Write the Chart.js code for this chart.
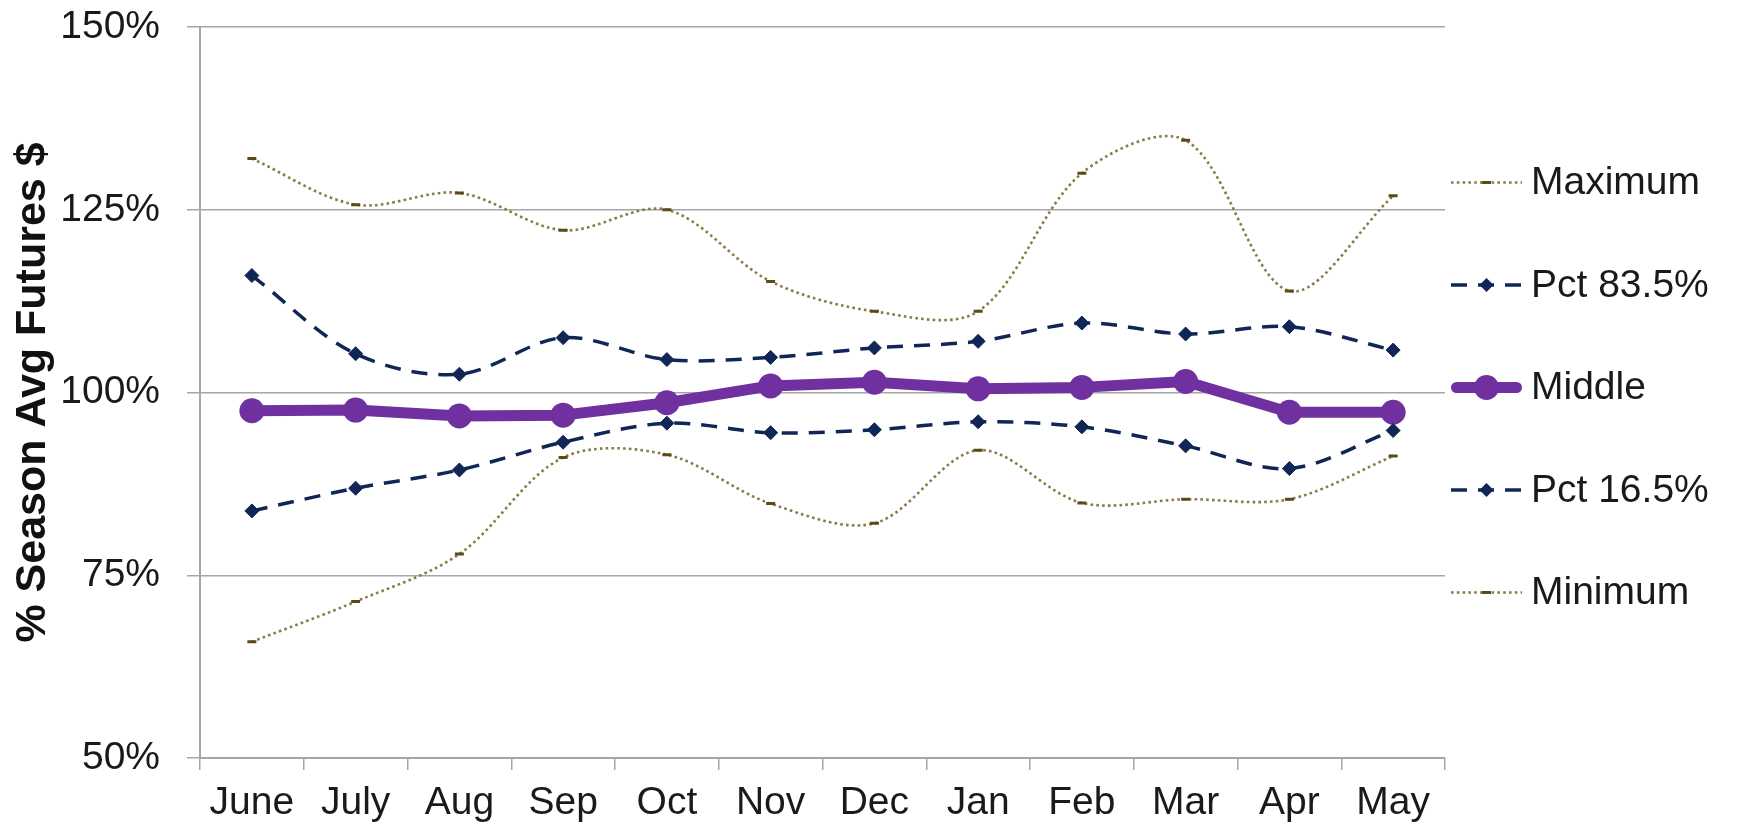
<!DOCTYPE html>
<html>
<head>
<meta charset="utf-8">
<title>% Season Avg Futures $</title>
<script src="https://cdn.jsdelivr.net/npm/chart.js@4/dist/chart.umd.min.js"></script>
<style>
  html, body { margin: 0; padding: 0; background: #ffffff; }
  #wrap { width: 1739px; height: 826px; position: relative; }
</style>
</head>
<body>
<div id="wrap"><canvas id="chart" width="1739" height="826"></canvas></div>
<script>
// Month of the marketing season
const months = ['June', 'July', 'Aug', 'Sep', 'Oct', 'Nov', 'Dec', 'Jan', 'Feb', 'Mar', 'Apr', 'May'];

// Price as % of the season average futures price
const maximum = [132.0, 125.7, 127.3, 122.2, 125.0, 115.2, 111.1, 111.1, 130.0, 134.5, 113.9, 126.9];
const pct835  = [116.0, 105.3, 102.5, 107.5, 104.5, 104.8, 106.1, 107.0, 109.5, 108.0, 109.0, 105.8];
const middle  = [97.5, 97.6, 96.8, 96.9, 98.6, 100.9, 101.4, 100.5, 100.7, 101.5, 97.3, 97.3];
const pct165  = [83.8, 86.9, 89.4, 93.2, 95.8, 94.5, 94.9, 96.0, 95.3, 92.7, 89.6, 94.8];
const minimum = [65.9, 71.4, 77.9, 91.1, 91.5, 84.8, 82.1, 92.1, 84.9, 85.4, 85.4, 91.3];

// Value axis ticks
const yTicks = [50, 75, 100, 125, 150];

const FONT = 'Liberation Sans, Arial, Helvetica, sans-serif';
const GRID = '#a6a6a6';
const OLIVE = '#8a7b45';
const OLIVE_MARK = '#5a4a18';
const NAVY = '#0f2657';
const PURPLE = '#7030a0';

const datasets = [
  {
    label: 'Maximum', data: maximum, order: 5,
    borderColor: OLIVE, borderWidth: 2.6, borderDash: [2.6, 3.2],
    tension: 0.33, fill: false,
    pointStyle: 'line', pointRadius: 4.5, pointBorderWidth: 3,
    pointBorderColor: OLIVE_MARK, pointBackgroundColor: OLIVE_MARK
  },
  {
    label: 'Pct 83.5%', data: pct835, order: 4,
    borderColor: NAVY, borderWidth: 3.5, borderDash: [16, 11],
    tension: 0.33, fill: false,
    pointStyle: 'rectRot', pointRadius: 7, pointBorderWidth: 1,
    pointBorderColor: NAVY, pointBackgroundColor: NAVY
  },
  {
    label: 'Middle', data: middle, order: 3,
    borderColor: PURPLE, borderWidth: 11, borderCapStyle: 'round', borderJoinStyle: 'round',
    tension: 0, fill: false,
    pointStyle: 'circle', pointRadius: 12.5, pointBorderWidth: 0,
    pointBorderColor: PURPLE, pointBackgroundColor: PURPLE
  },
  {
    label: 'Pct 16.5%', data: pct165, order: 2,
    borderColor: NAVY, borderWidth: 3.5, borderDash: [16, 11],
    tension: 0.33, fill: false,
    pointStyle: 'rectRot', pointRadius: 7, pointBorderWidth: 1,
    pointBorderColor: NAVY, pointBackgroundColor: NAVY
  },
  {
    label: 'Minimum', data: minimum, order: 1,
    borderColor: OLIVE, borderWidth: 2.6, borderDash: [2.6, 3.2],
    tension: 0.33, fill: false,
    pointStyle: 'line', pointRadius: 4.5, pointBorderWidth: 3,
    pointBorderColor: OLIVE_MARK, pointBackgroundColor: OLIVE_MARK
  }
];

// Series key drawn to the right of the plot, one row per series
const sideLegend = {
  id: 'sideLegend',
  afterDraw(chart) {
    const ctx = chart.ctx;
    const area = chart.chartArea;
    const x0 = area.right + 6, x1 = area.right + 77, tx = area.right + 86;
    const mid = (area.top + area.bottom) / 2 - 5;
    const step = 102.5;
    chart.data.datasets.forEach((ds, i) => {
      const y = mid + (i - 2) * step;
      ctx.save();
      ctx.strokeStyle = ds.borderColor;
      ctx.lineWidth = ds.borderWidth;
      ctx.lineCap = ds.borderCapStyle || 'butt';
      ctx.setLineDash(ds.borderDash || []);
      ctx.beginPath();
      const inset = ds.borderCapStyle === 'round' ? ds.borderWidth / 2 : 0;
      ctx.moveTo(x0 + inset, y);
      ctx.lineTo(x1 - inset, y);
      ctx.stroke();
      ctx.setLineDash([]);
      const cx = (x0 + x1) / 2;
      ctx.fillStyle = ds.pointBackgroundColor;
      ctx.strokeStyle = ds.pointBorderColor;
      ctx.beginPath();
      if (ds.pointStyle === 'circle') {
        ctx.arc(cx, y, ds.pointRadius, 0, Math.PI * 2);
        ctx.fill();
      } else if (ds.pointStyle === 'rectRot') {
        const r = ds.pointRadius;
        ctx.moveTo(cx, y - r); ctx.lineTo(cx + r, y); ctx.lineTo(cx, y + r); ctx.lineTo(cx - r, y);
        ctx.closePath();
        ctx.fill();
      } else {
        ctx.lineWidth = ds.pointBorderWidth;
        ctx.moveTo(cx - ds.pointRadius, y); ctx.lineTo(cx + ds.pointRadius, y);
        ctx.stroke();
      }
      ctx.fillStyle = '#1a1a1a';
      ctx.font = '39px ' + FONT;
      ctx.textAlign = 'left';
      ctx.textBaseline = 'middle';
      ctx.fillText(ds.label, tx, y + 1);
      ctx.restore();
    });
  }
};

const whiteBg = {
  id: 'whiteBg',
  beforeDraw(chart) {
    const ctx = chart.ctx;
    ctx.save();
    ctx.fillStyle = '#ffffff';
    ctx.fillRect(0, 0, chart.width, chart.height);
    ctx.restore();
  }
};

new Chart(document.getElementById('chart'), {
  type: 'line',
  data: { labels: months, datasets },
  plugins: [whiteBg, sideLegend],
  options: {
    responsive: false,
    animation: false,
    layout: { padding: { left: 0, top: 27, right: 294, bottom: 0 } },
    plugins: {
      legend: { display: false },
      tooltip: { enabled: false }
    },
    scales: {
      x: {
        type: 'category',
        offset: true,
        grid: {
          offset: true, drawOnChartArea: false, drawTicks: true,
          tickLength: 12, color: GRID, lineWidth: 1.5
        },
        border: { display: true, color: GRID, width: 2 },
        ticks: {
          color: '#1a1a1a', padding: 10, maxRotation: 0, autoSkip: false,
          font: { family: FONT, size: 39 }
        },
        afterFit(scale) { scale.height = 68; }
      },
      y: {
        min: 50, max: 150,
        afterBuildTicks(scale) { scale.ticks = yTicks.map(v => ({ value: v })); },
        grid: { color: GRID, lineWidth: 1.5, tickLength: 13, drawTicks: true },
        border: { display: true, color: GRID, width: 2 },
        ticks: {
          color: '#1a1a1a', padding: 27,
          font: { family: FONT, size: 39 },
          callback: v => v + '%'
        },
        title: {
          display: true, text: '% Season Avg Futures $', color: '#111111',
          font: { family: FONT, size: 43, weight: 'bold' },
          padding: { top: 7, bottom: 0 }
        },
        afterFit(scale) {
          scale.width = 200;
          scale.paddingTop = 0;
          scale.paddingBottom = 0;
        }
      }
    }
  }
});
</script>
</body>
</html>
